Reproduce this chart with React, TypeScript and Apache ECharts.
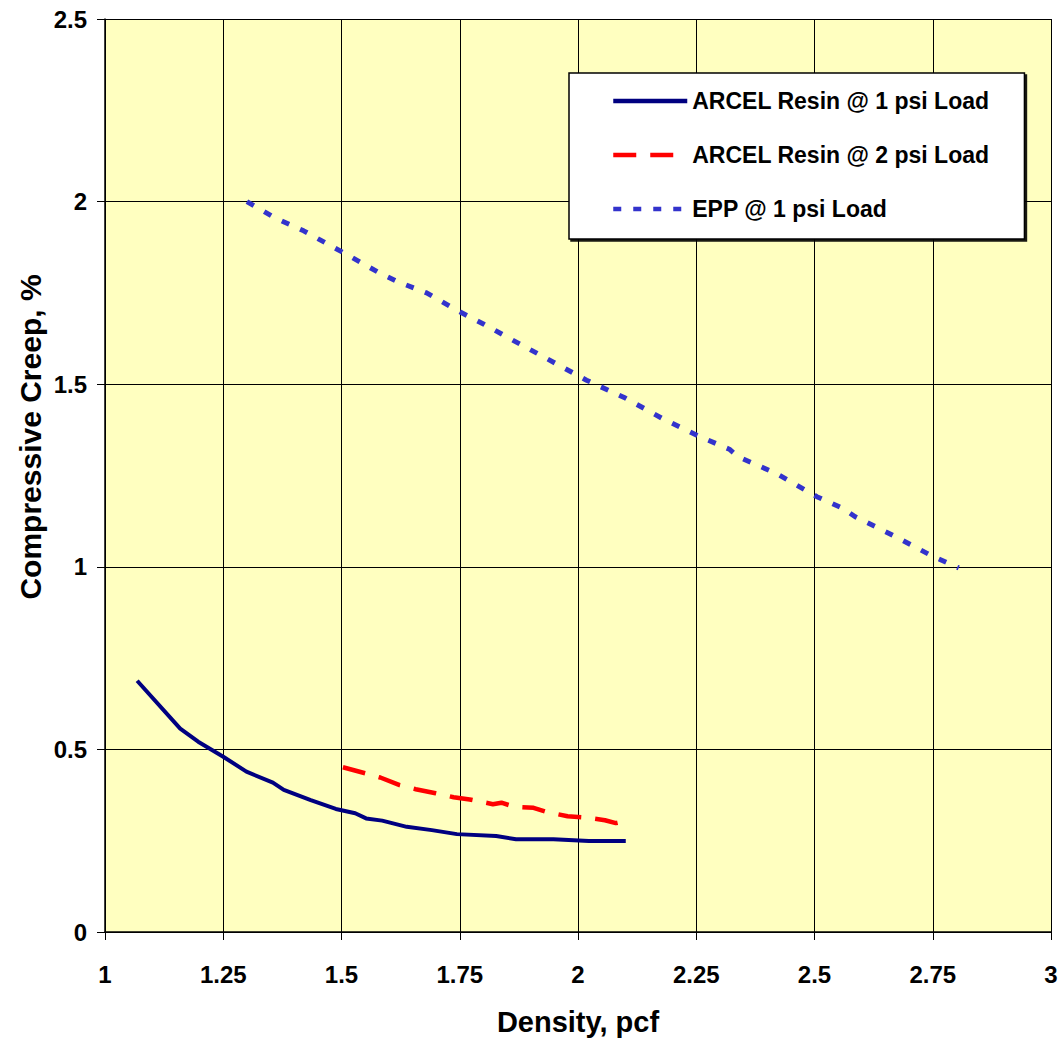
import React, { useEffect, useRef } from "react";
import * as echarts from "echarts";

const xTicks = [1, 1.25, 1.5, 1.75, 2, 2.25, 2.5, 2.75, 3];
const yTicks = [0, 0.5, 1, 1.5, 2, 2.5];

const seriesNames = [
  "ARCEL Resin @ 1 psi Load",
  "ARCEL Resin @ 2 psi Load",
  "EPP @ 1 psi Load",
];

const arcel1psi: [number, number][] = [
  [1.068, 0.688], [1.159, 0.557], [1.197, 0.521], [1.25, 0.48], [1.299, 0.439],
  [1.355, 0.409], [1.378, 0.389], [1.435, 0.361], [1.488, 0.337], [1.529, 0.325],
  [1.552, 0.311], [1.586, 0.305], [1.638, 0.288], [1.691, 0.279], [1.744, 0.268],
  [1.827, 0.263], [1.869, 0.254], [1.948, 0.254], [2.023, 0.249], [2.101, 0.249],
];

const arcel2psi: [number, number][] = [
  [1.503, 0.451], [1.552, 0.434], [1.582, 0.423], [1.623, 0.402], [1.657, 0.391],
  [1.699, 0.38], [1.737, 0.369], [1.771, 0.363], [1.82, 0.35], [1.838, 0.354],
  [1.865, 0.343], [1.906, 0.34], [1.933, 0.329], [1.978, 0.317], [2.02, 0.313],
  [2.057, 0.306], [2.08, 0.298], [2.103, 0.305],
];

const epp1psi: [number, number][] = [
  [1.3, 2.0], [1.36, 1.955], [1.42, 1.92], [1.5, 1.863], [1.58, 1.805],
  [1.62, 1.78], [1.68, 1.75], [1.743, 1.703], [1.8, 1.665], [1.86, 1.622],
  [1.92, 1.58], [2.018, 1.511], [2.1, 1.462], [2.18, 1.405], [2.258, 1.356],
  [2.32, 1.322], [2.339, 1.301], [2.42, 1.255], [2.505, 1.192], [2.56, 1.16],
  [2.586, 1.137], [2.66, 1.09], [2.751, 1.028], [2.805, 0.997],
];

const font = "'Liberation Sans', Arial, sans-serif";

export default function App() {
  const ref = useRef<HTMLDivElement>(null);
  useEffect(() => {
    if (!ref.current) return;
    const chart = echarts.init(ref.current, undefined, { renderer: "svg" });
    chart.setOption({
      animation: false,
      backgroundColor: "#ffffff",
      grid: {
        left: 105,
        right: 13,
        top: 19,
        bottom: 121,
        containLabel: false,
        show: true,
        backgroundColor: "#FFFFC0",
        borderWidth: 0,
      },
      xAxis: {
        type: "value",
        min: xTicks[0],
        max: xTicks[xTicks.length - 1],
        interval: 0.25,
        axisLine: { show: true, onZero: false, lineStyle: { color: "#000", width: 1.5 } },
        axisTick: { show: true, inside: false, length: 8, lineStyle: { color: "#000" } },
        splitLine: { show: true, lineStyle: { color: "#000", width: 1 } },
        axisLabel: {
          margin: 30,
          color: "#000",
          fontWeight: "bold",
          fontSize: 24,
          fontFamily: font,
        },
      },
      yAxis: {
        type: "value",
        min: yTicks[0],
        max: yTicks[yTicks.length - 1],
        interval: 0.5,
        axisLine: { show: true, lineStyle: { color: "#000", width: 1.5 } },
        axisTick: { show: true, inside: false, length: 8, lineStyle: { color: "#000" } },
        splitLine: { show: true, lineStyle: { color: "#000", width: 1 } },
        axisLabel: {
          margin: 18,
          color: "#000",
          fontWeight: "bold",
          fontSize: 24,
          fontFamily: font,
        },
      },
      legend: {
        orient: "vertical",
        left: 569,
        top: 73,
        padding: [16, 35, 18, 42],
        itemWidth: 74,
        itemHeight: 30,
        itemGap: 30,
        backgroundColor: "#ffffff",
        borderColor: "#000",
        borderWidth: 1.5,
        shadowColor: "rgba(0,0,0,0.9)",
        shadowOffsetX: 2,
        shadowOffsetY: 2,
        shadowBlur: 0,
        data: seriesNames,
        itemStyle: { opacity: 0 },
        lineStyle: { width: 4.5 },
        textStyle: {
          color: "#000",
          fontWeight: "bold",
          fontSize: 23,
          fontFamily: font,
        },
      },
      graphic: [
        {
          type: "text",
          x: 30,
          y: 437,
          rotation: Math.PI / 2,
          style: {
            text: "Compressive Creep, %",
            fill: "#000",
            font: "bold 30px " + font,
            textAlign: "center",
            textVerticalAlign: "middle",
          },
        },
        {
          type: "text",
          x: 578,
          y: 1022,
          style: {
            text: "Density, pcf",
            fill: "#000",
            font: "bold 29px " + font,
            textAlign: "center",
            textVerticalAlign: "middle",
          },
        },
      ],
      series: [
        {
          name: seriesNames[0],
          type: "line",
          data: arcel1psi,
          showSymbol: false,
          symbol: "none",
          lineStyle: { color: "#000080", width: 4 },
          itemStyle: { color: "#000080" },
        },
        {
          name: seriesNames[1],
          type: "line",
          data: arcel2psi,
          showSymbol: false,
          symbol: "none",
          lineStyle: { color: "#FF0000", width: 4.5, type: [23, 14] },
          itemStyle: { color: "#FF0000" },
        },
        {
          name: seriesNames[2],
          type: "line",
          data: epp1psi,
          showSymbol: false,
          symbol: "none",
          lineStyle: { color: "#3333CC", width: 5, type: [8, 12] },
          itemStyle: { color: "#3333CC" },
        },
      ],
    });
    return () => chart.dispose();
  }, []);
  return (
    <div
      ref={ref}
      style={{ position: "fixed", left: 0, top: 0, width: 1064, height: 1053 }}
    />
  );
}
